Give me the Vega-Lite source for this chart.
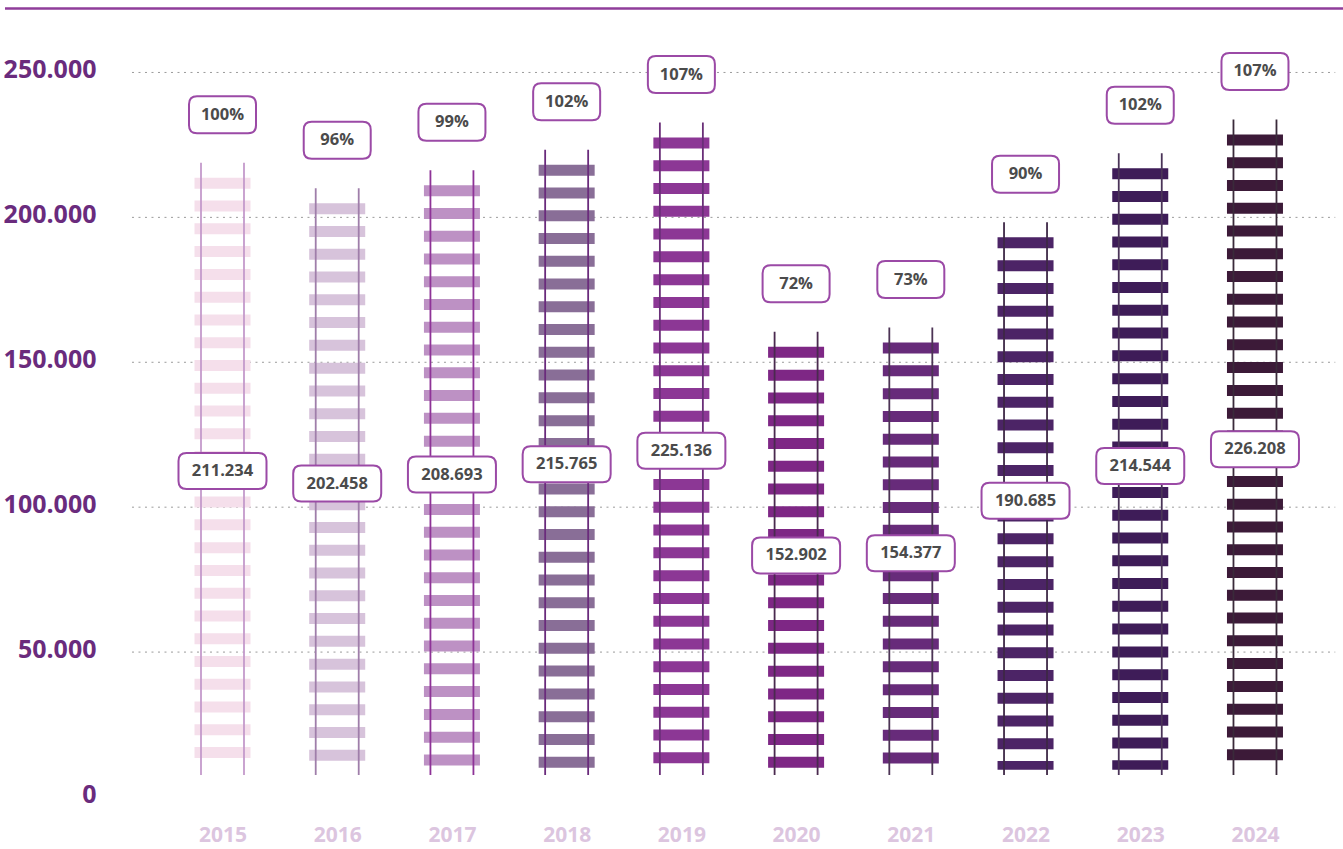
{
  "$schema": "https://vega.github.io/schema/vega-lite/v6.json",
  "width": 1343,
  "height": 797,
  "autosize": {"type": "none"},
  "padding": {"left": 0, "top": 0, "right": 0, "bottom": 52},
  "background": "white",
  "config": {
    "view": {"stroke": null},
    "locale": {"number": {"decimal": ",", "thousands": ".", "grouping": [3], "currency": ["", " €"]}},
    "font": "Open Sans",
    "axisX": {"domain": false, "ticks": false, "grid": false, "labelPadding": 38, "labelBaseline": "middle",
      "labelFont": "Open Sans", "labelFontWeight": "bold", "labelFontSize": 21, "labelColor": "#dcc5df", "labelFlush": false}
  },
  "data": {"values": [
    {"year": 2015, "value": 211234, "pct": 1.00},
    {"year": 2016, "value": 202458, "pct": 0.96},
    {"year": 2017, "value": 208693, "pct": 0.99},
    {"year": 2018, "value": 215765, "pct": 1.02},
    {"year": 2019, "value": 225136, "pct": 1.07},
    {"year": 2020, "value": 152902, "pct": 0.72},
    {"year": 2021, "value": 154377, "pct": 0.73},
    {"year": 2022, "value": 190685, "pct": 0.90},
    {"year": 2023, "value": 214544, "pct": 1.02},
    {"year": 2024, "value": 226208, "pct": 1.07}
  ]},
  "resolve": {"scale": {"y": "independent"}},
  "layer": [
    {
      "data": {"values": [{"g": 50000}, {"g": 100000}, {"g": 150000}, {"g": 200000}, {"g": 250000}]},
      "mark": {"type": "rule", "color": "#9a9a9a", "strokeWidth": 1, "strokeDash": [2, 4.5]},
      "encoding": {
        "x": {"datum": 2014.211, "type": "quantitative", "scale": {"domain": [2013.0605, 2024.7673], "nice": false, "zero": false},
          "axis": {"values": [2015, 2016, 2017, 2018, 2019, 2020, 2021, 2022, 2023, 2024], "format": "d", "title": null}},
        "x2": {"datum": 2024.70},
        "y": {"field": "g", "type": "quantitative", "scale": {"domain": [0, 275000], "nice": false, "zero": true}, "axis": null}
      }
    },
    {
      "data": {"values": [{"g": 272080}]},
      "mark": {"type": "rule", "color": "#8f3d9a", "strokeWidth": 2.5},
      "encoding": {
        "x": {"datum": 2013.104, "type": "quantitative",
          "axis": {"values": [2015, 2016, 2017, 2018, 2019, 2020, 2021, 2022, 2023, 2024], "format": "d", "title": null}},
        "x2": {"datum": 2024.7673},
        "y": {"field": "g", "type": "quantitative", "scale": {"domain": [0, 275000], "nice": false}, "axis": null}
      }
    },
    {
      "mark": {"type": "rule", "strokeWidth": 56, "strokeDash": [11, 11.77], "strokeCap": "butt", "yOffset": -7},
      "encoding": {
        "x": {"field": "year", "type": "quantitative",
          "axis": {"values": [2015, 2016, 2017, 2018, 2019, 2020, 2021, 2022, 2023, 2024], "format": "d", "title": null}},
        "y": {"field": "value", "type": "quantitative", "scale": {"domain": [0, 275000], "nice": false},
          "axis": {"values": [0, 50000, 100000, 150000, 200000, 250000], "format": ",d", "title": null,
            "domain": false, "ticks": false, "tickSize": 0, "grid": false, "labelAlign": "right", "labelPadding": -96,
            "labelBaseline": "middle", "labelOffset": -2.5, "labelFont": "Open Sans", "labelFontWeight": "bold",
            "labelFontSize": 25, "labelColor": "#6a2b7d"}},
        "y2": {"datum": 9420},
        "color": {"field": "year", "type": "ordinal", "legend": null,
          "scale": {"range": ["#f5dfeb", "#d7c3db", "#bd91c4", "#896e97", "#8c3795", "#7e2785", "#672b7a", "#4c2466", "#3e1c58", "#3c1a38"]}}
      }
    },
    {
      "mark": {"type": "rule", "strokeWidth": 1.8, "xOffset": -21.5, "yOffset": -22},
      "encoding": {
        "x": {"field": "year", "type": "quantitative",
          "axis": {"values": [2015, 2016, 2017, 2018, 2019, 2020, 2021, 2022, 2023, 2024], "format": "d", "title": null}},
        "y": {"field": "value", "type": "quantitative", "scale": {"domain": [0, 275000], "nice": false}, "axis": null},
        "y2": {"datum": 7600},
        "stroke": {"field": "year", "type": "ordinal", "legend": null,
          "scale": {"range": ["#c49acb", "#9f7eaa", "#8e3397", "#6a2b7c", "#6a2f78", "#4a2a4f", "#4c3455", "#3e2846", "#4a3458", "#3a2a3a"]}}
      }
    },
    {
      "mark": {"type": "rule", "strokeWidth": 1.8, "xOffset": 21.5, "yOffset": -22},
      "encoding": {
        "x": {"field": "year", "type": "quantitative",
          "axis": {"values": [2015, 2016, 2017, 2018, 2019, 2020, 2021, 2022, 2023, 2024], "format": "d", "title": null}},
        "y": {"field": "value", "type": "quantitative", "scale": {"domain": [0, 275000], "nice": false}, "axis": null},
        "y2": {"datum": 7600},
        "stroke": {"field": "year", "type": "ordinal", "legend": null}
      }
    },
    {
      "mark": {"type": "point", "filled": true, "fill": "white", "stroke": "#9b4aa6", "strokeWidth": 2, "opacity": 1, "fillOpacity": 1, "size": 4489, "yOffset": -70,
        "shape": "M-0.7612,-0.5522 L0.7612,-0.5522 Q1,-0.5522 1,-0.3134 L1,0.3134 Q1,0.5522 0.7612,0.5522 L-0.7612,0.5522 Q-1,0.5522 -1,0.3134 L-1,-0.3134 Q-1,-0.5522 -0.7612,-0.5522 Z"},
      "encoding": {
        "x": {"field": "year", "type": "quantitative",
          "axis": {"values": [2015, 2016, 2017, 2018, 2019, 2020, 2021, 2022, 2023, 2024], "format": "d", "title": null}},
        "y": {"field": "value", "type": "quantitative", "scale": {"domain": [0, 275000], "nice": false}, "axis": null}
      }
    },
    {
      "mark": {"type": "text", "font": "Open Sans", "fontWeight": "bold", "fontSize": 16.5, "color": "#4b4b4b", "baseline": "middle", "align": "center", "yOffset": -70},
      "encoding": {
        "x": {"field": "year", "type": "quantitative",
          "axis": {"values": [2015, 2016, 2017, 2018, 2019, 2020, 2021, 2022, 2023, 2024], "format": "d", "title": null}},
        "y": {"field": "value", "type": "quantitative", "scale": {"domain": [0, 275000], "nice": false}, "axis": null},
        "text": {"field": "pct", "type": "quantitative", "format": ".0%"}
      }
    },
    {
      "mark": {"type": "point", "filled": true, "fill": "white", "stroke": "#9b4aa6", "strokeWidth": 2, "opacity": 1, "fillOpacity": 1, "size": 7744, "yOffset": -20,
        "shape": "M-0.8182,-0.4091 L0.8182,-0.4091 Q1,-0.4091 1,-0.2273 L1,0.2273 Q1,0.4091 0.8182,0.4091 L-0.8182,0.4091 Q-1,0.4091 -1,0.2273 L-1,-0.2273 Q-1,-0.4091 -0.8182,-0.4091 Z"},
      "encoding": {
        "x": {"field": "year", "type": "quantitative",
          "axis": {"values": [2015, 2016, 2017, 2018, 2019, 2020, 2021, 2022, 2023, 2024], "format": "d", "title": null}},
        "y": {"field": "value", "type": "quantitative", "scale": {"domain": [0, 550000], "nice": false}, "axis": null}
      }
    },
    {
      "mark": {"type": "text", "font": "Open Sans", "fontWeight": "bold", "fontSize": 16.5, "color": "#4b4b4b", "baseline": "middle", "align": "center", "yOffset": -20},
      "encoding": {
        "x": {"field": "year", "type": "quantitative",
          "axis": {"values": [2015, 2016, 2017, 2018, 2019, 2020, 2021, 2022, 2023, 2024], "format": "d", "title": null}},
        "y": {"field": "value", "type": "quantitative", "scale": {"domain": [0, 550000], "nice": false}, "axis": null},
        "text": {"field": "value", "type": "quantitative", "format": ",d"}
      }
    }
  ]
}
